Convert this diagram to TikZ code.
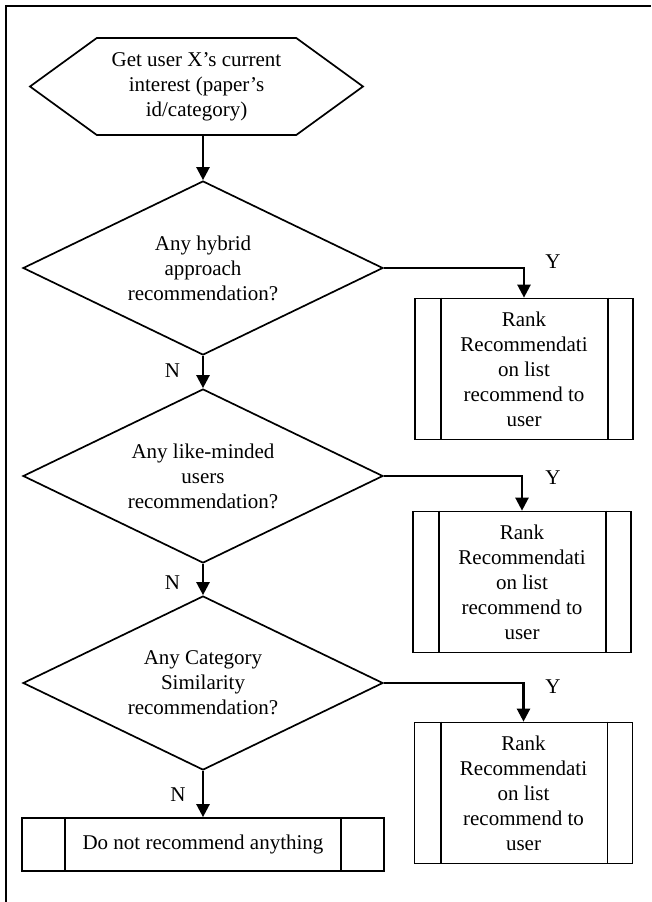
\documentclass[tikz,border=0pt]{standalone}
\usepackage{fontspec}
\setmainfont{Liberation Serif}
\usetikzlibrary{arrows.meta,shapes.geometric,shapes.symbols}

\begin{document}
\begin{tikzpicture}[x=1pt,y=-1pt,
        every node/.style={font=\fontsize{21}{25}\selectfont},
        decision/.style={draw,diamond,aspect=2.07,minimum width=360pt,minimum height=174pt,inner sep=0pt,align=center,line width=1.7pt},
        rankbox/.style={draw,rectangle,minimum width=218pt,minimum height=141pt,inner sep=0pt,align=center,line width=1.7pt},
        arr/.style={line width=2.4pt,-{Triangle[length=13pt,width=13pt]}}]
        \useasboundingbox (0,0) rectangle (651,902);
        \draw[line width=2pt] (6,902) |- (651,6);
        % start
        \node[draw,signal,signal to=west and east,signal pointer angle=72,minimum width=333pt,minimum height=97pt,inner sep=0pt,align=center,line width=1.7pt] (get) at (196.5,86.5) {Get user X’s current\\interest (paper’s\\id/category)};
        % decisions
        \node[decision] (hybrid) at (203,268) {Any hybrid\\approach\\recommendation?};
        \node[decision] (like) at (203,476) {Any like-minded\\users\\recommendation?};
        \node[decision] (cat) at (203,683) {Any Category\\Similarity\\recommendation?};
        % results
        \node[rankbox] (rank1) at (524,369) {Rank\\Recommendati\\on list\\recommend to\\user};
        \node[rankbox] (rank2) at (522,582) {Rank\\Recommendati\\on list\\recommend to\\user};
        \node[rankbox] (rank3) at (523.5,793) {Rank\\Recommendati\\on list\\recommend to\\user};
        \node[draw,rectangle,minimum width=362pt,minimum height=53pt,inner sep=0pt,line width=1.7pt] (none) at (203,844.5) {Do not recommend anything};
        \foreach \b in {rank1,rank2,rank3}
            \draw[line width=1.7pt] ([xshift=27pt]\b.north west) -- ([xshift=27pt]\b.south west)
                ([xshift=-26pt]\b.north east) -- ([xshift=-26pt]\b.south east);
        \draw[line width=1.7pt] ([xshift=44pt]none.north west) -- ([xshift=44pt]none.south west)
            ([xshift=-44pt]none.north east) -- ([xshift=-44pt]none.south east);
        % connectors
        \draw[arr] (get.south -| hybrid.north) -- (hybrid.north);
        \draw[arr] (hybrid.south) -- (like.north);
        \draw[arr] (like.south) -- (cat.north);
        \draw[arr] (cat.south) -- (none.north);
        \draw[arr] (hybrid.east) -| (rank1.north);
        \draw[arr] (like.east) -| (rank2.north);
        \draw[arr] (cat.east) -| (rank3.north);
        % labels
        \node (y1) at (553,262) {Y};
        \node (y2) at (553,478) {Y};
        \node (y3) at (553,687) {Y};
        \node (n1) at (172.5,371) {N};
        \node (n2) at (172.5,583) {N};
        \node (n3) at (178,795) {N};
    \end{tikzpicture}
\end{document}
